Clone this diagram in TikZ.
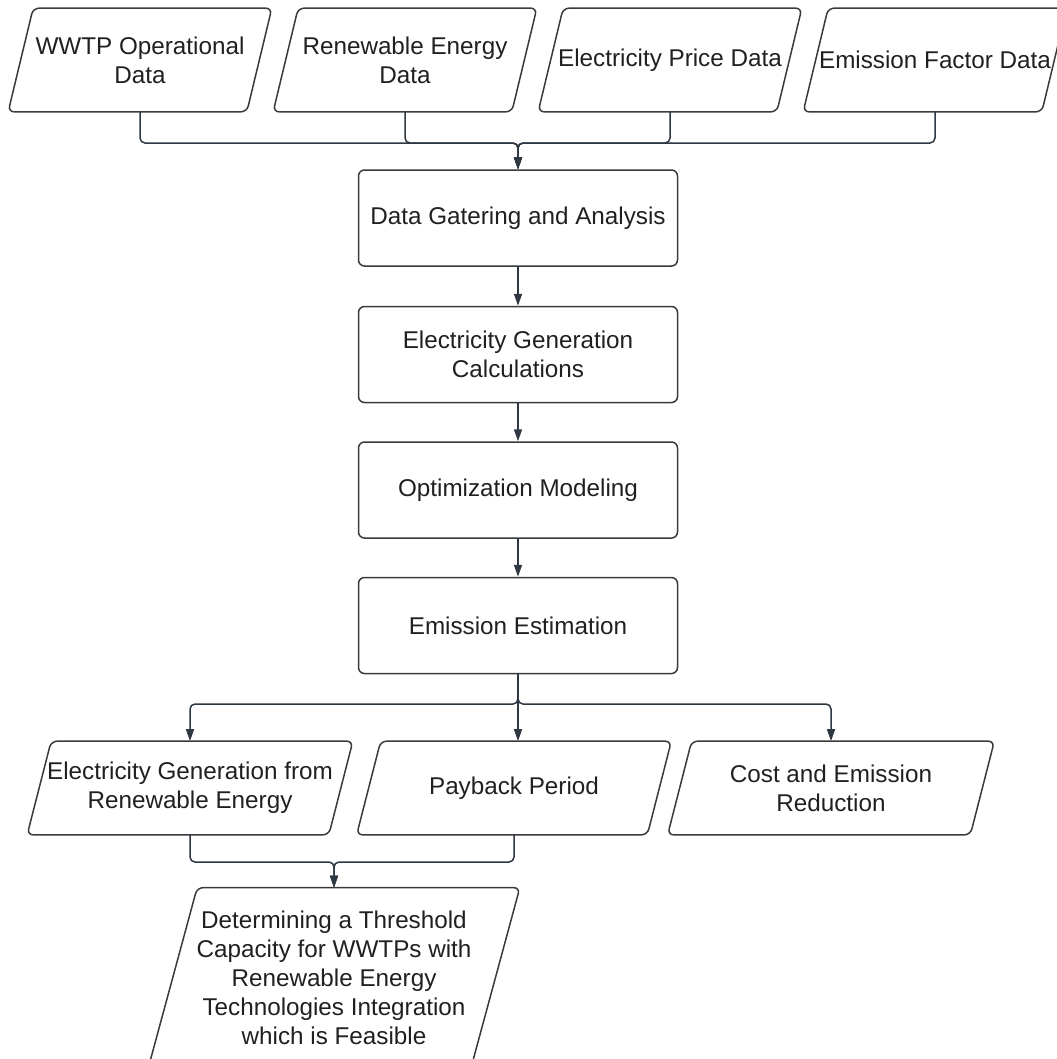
\documentclass[tikz,border=0pt]{standalone}
\usepackage{fontspec}
\setmainfont{Liberation Sans}
\usetikzlibrary{arrows.meta, positioning}
\definecolor{lnclr}{HTML}{2E3842}
\definecolor{bdclr}{HTML}{3A3A3A}
\definecolor{txclr}{HTML}{202020}

\begin{document}
\begin{tikzpicture}[
        x=0.2mm, y=-0.2mm,
        every node/.style={font=\fontsize{13.8pt}{16.5pt}\selectfont, text=txclr, align=center},
        bdr/.style={draw=bdclr, line width=0.3mm, rounded corners=1.2mm},
        proc/.style={bdr, minimum width=63.8mm, minimum height=19.2mm, inner sep=0pt},
        io/.style={inner sep=0pt, append after command={\pgfextra{
          \draw[bdr] (\tikzlastnode.south west) -- ([xshift=#1]\tikzlastnode.north west)
            -- (\tikzlastnode.north east) -- ([xshift=-#1]\tikzlastnode.south east) -- cycle;}}},
        ln/.style={draw=lnclr, line width=0.3mm, rounded corners=1mm},
        ar/.style={ln, -{Triangle[length=2.4mm, width=1.6mm]}}
      ]
      \useasboundingbox (0,0) rectangle (1057,1059);
      \clip (0,0) rectangle (1057,1059);
      % input data
      \foreach \txt [count=\i] in {{WWTP Operational\\Data}, {Renewable Energy\\Data}, {Electricity Price Data}, {Emission Factor Data}} {
        \node[io=5mm, minimum width=52.6mm, minimum height=20.6mm] (in\i) at ({140+265*(\i-1)}, 60) {\txt};
      }
      % main chain
      \node[proc] (gather) at (518,218) {Data Gatering and Analysis};
      \node[proc, below=7.8mm of gather] (calc) {Electricity Generation\\Calculations};
      \node[proc, below=7.6mm of calc] (optim) {Optimization Modeling};
      \node[proc, below=7.6mm of optim] (emis) {Emission Estimation};
      % results
      \node[io=4.8mm, minimum width=65mm, minimum height=18.6mm] (elgen) at (190,788) {Electricity Generation from\\Renewable Energy};
      \node[io=4.8mm, minimum width=62.8mm, minimum height=18.6mm] (payback) at (514,788) {Payback Period};
      \node[io=4.8mm, minimum width=65.2mm, minimum height=18.6mm] (cost) at (831,788) {Cost and Emission\\Reduction};
      \node[io=9.8mm, minimum width=74.2mm, minimum height=36mm] (thresh) at (334,978)
        {Determining a Threshold\\Capacity for WWTPs with\\Renewable Energy\\Technologies Integration\\which is Feasible};
      % connectors
      \coordinate (jtop) at (518,143);
      \coordinate (jbot) at (518,704);
      \coordinate (jfin) at (334,862);
      \foreach \i in {1,...,4} {
        \draw[ar] (in\i.south) |- (jtop) -- (gather.north);
      }
      \draw[ar] (gather) -- (calc);
      \draw[ar] (calc) -- (optim);
      \draw[ar] (optim) -- (emis);
      \draw[ar] (emis.south) -- (jbot) -| (elgen.north);
      \draw[ar] (emis.south) -- (jbot |- payback.north);
      \draw[ar] (emis.south) -- (jbot) -| (cost.north);
      \draw[ar] (elgen.south) |- (jfin) -- (thresh.north);
      \draw[ar] (payback.south) |- (jfin) -- (thresh.north);
    \end{tikzpicture}
\end{document}
